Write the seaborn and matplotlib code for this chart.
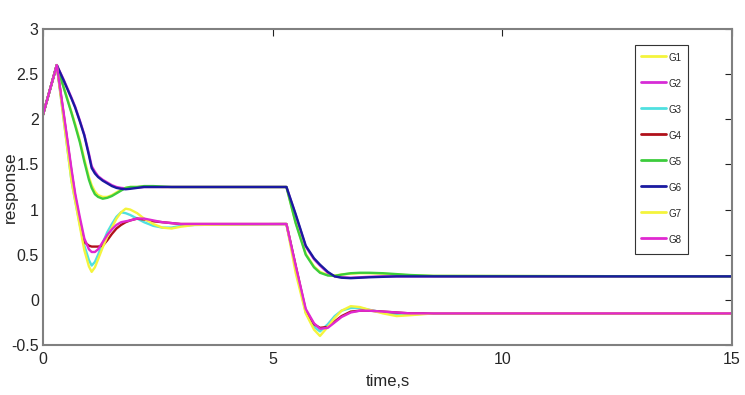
import matplotlib
matplotlib.use('Agg')
import matplotlib.pyplot as plt
import seaborn as sns
import pandas as pd

# time grid (s)
time = [0, 0.3, 0.45, 0.62, 0.7, 0.8, 0.9, 1.0, 1.06, 1.13, 1.2, 1.3, 1.4, 1.5, 1.6, 1.7,
        1.8, 1.9, 2.05, 2.2, 2.4, 2.6, 2.8, 3.0, 3.3, 5.3,
        5.5, 5.72, 5.9, 6.03, 6.2, 6.35, 6.5, 6.7, 6.9, 7.1, 7.4, 7.7, 8.0, 8.5, 15]

g1 = [2.05, 2.6, 2.36, 2.08, 1.95, 1.77, 1.56, 1.36, 1.27, 1.2, 1.16, 1.14, 1.14, 1.16, 1.19, 1.22,
      1.24, 1.25, 1.25, 1.255, 1.255, 1.25, 1.25, 1.25, 1.25, 1.25,
      0.86, 0.51, 0.37, 0.31, 0.275, 0.27, 0.28, 0.29, 0.295, 0.295, 0.29, 0.28, 0.27, 0.265, 0.26]
g2 = [2.05, 2.6, 2.44, 2.24, 2.14, 1.99, 1.83, 1.62, 1.48, 1.42, 1.37, 1.33, 1.3, 1.27, 1.25, 1.24,
      1.235, 1.24, 1.245, 1.25, 1.25, 1.25, 1.25, 1.25, 1.25, 1.25,
      0.94, 0.59, 0.45, 0.38, 0.3, 0.26, 0.25, 0.245, 0.25, 0.255, 0.26, 0.26, 0.26, 0.26, 0.26]
g3 = [2.05, 2.6, 2.0, 1.32, 1.1, 0.84, 0.6, 0.44, 0.38, 0.42, 0.5, 0.63, 0.75, 0.84, 0.92, 0.97,
      0.96, 0.94, 0.9, 0.86, 0.82, 0.8, 0.8, 0.82, 0.83, 0.84,
      0.36, -0.14, -0.3, -0.35, -0.27, -0.18, -0.12, -0.09, -0.09, -0.11, -0.14, -0.16, -0.16, -0.15, -0.15]
g4 = [2.05, 2.6, 2.05, 1.42, 1.15, 0.88, 0.64, 0.6, 0.59, 0.59, 0.59, 0.6, 0.66, 0.73, 0.79, 0.83,
      0.86, 0.88, 0.9, 0.89, 0.87, 0.86, 0.85, 0.84, 0.84, 0.84,
      0.38, -0.12, -0.27, -0.31, -0.3, -0.24, -0.18, -0.13, -0.12, -0.12, -0.13, -0.14, -0.15, -0.15, -0.15]
g5 = [2.05, 2.6, 2.35, 2.07, 1.93, 1.75, 1.53, 1.33, 1.24, 1.17, 1.14, 1.12, 1.13, 1.15, 1.18, 1.21,
      1.24, 1.25, 1.25, 1.26, 1.26, 1.255, 1.25, 1.25, 1.25, 1.25,
      0.85, 0.5, 0.36, 0.3, 0.27, 0.265, 0.28, 0.295, 0.3, 0.3, 0.295, 0.285, 0.275, 0.265, 0.26]
g6 = [2.05, 2.6, 2.43, 2.23, 2.13, 1.98, 1.82, 1.6, 1.46, 1.4, 1.36, 1.32, 1.29, 1.26, 1.24, 1.23,
      1.225, 1.23, 1.24, 1.25, 1.25, 1.25, 1.25, 1.25, 1.25, 1.25,
      0.95, 0.6, 0.46, 0.39, 0.31, 0.26, 0.245, 0.24, 0.245, 0.25, 0.255, 0.26, 0.26, 0.26, 0.26]
g7 = [2.05, 2.6, 2.0, 1.32, 1.1, 0.82, 0.55, 0.37, 0.31, 0.36, 0.45, 0.58, 0.7, 0.8, 0.9, 0.97,
      1.01, 1.0, 0.96, 0.9, 0.84, 0.8, 0.79, 0.81, 0.83, 0.84,
      0.3, -0.15, -0.33, -0.4, -0.3, -0.2, -0.12, -0.07, -0.08, -0.11, -0.15, -0.18, -0.17, -0.15, -0.15]
g8 = [2.05, 2.6, 2.07, 1.45, 1.18, 0.92, 0.68, 0.56, 0.53, 0.53, 0.56, 0.64, 0.72, 0.78, 0.83, 0.86,
      0.87, 0.88, 0.9, 0.9, 0.88, 0.86, 0.85, 0.84, 0.84, 0.84,
      0.38, -0.1, -0.26, -0.32, -0.31, -0.25, -0.19, -0.14, -0.12, -0.12, -0.13, -0.14, -0.15, -0.15, -0.15]

names = ['G1', 'G2', 'G3', 'G4', 'G5', 'G6', 'G7', 'G8']
colors = ['#f4f43c', '#d62cd6', '#4fe0e0', '#b0101a', '#3ccc3c', '#1a1aa0', '#f4f43c', '#e028d0']

series = [g1, g2, g3, g4, g5, g6, g7, g8]
df = pd.concat([pd.DataFrame({'time': time, 'response': s, 'group': n})
                for n, s in zip(names, series)], ignore_index=True)

sns.set_style('white')
plt.rcParams['font.family'] = ['Liberation Sans Narrow', 'Liberation Sans', 'DejaVu Sans']

fig = plt.figure(figsize=(7.45, 3.95), dpi=100)
ax = fig.add_axes([0.0577, 0.1266, 0.9249, 0.80])

sns.lineplot(data=df, x='time', y='response', hue='group', hue_order=names,
             palette=dict(zip(names, colors)), linewidth=1.7, ax=ax, sort=False)

ax.set_xlim(0, 15)
ax.set_ylim(-0.5, 3)
ax.set_xticks([0, 5, 10, 15])
ax.set_yticks([-0.5, 0, 0.5, 1, 1.5, 2, 2.5, 3])
ax.set_yticklabels(['-0.5', '0', '0.5', '1', '1.5', '2', '2.5', '3'])
ax.tick_params(direction='in', length=5, width=0.8, color='#222222',
               labelsize=11.5, top=True, right=True, pad=3)
ax.tick_params(axis='x', pad=5)
for sp in ax.spines.values():
    sp.set_color('#808080')
    sp.set_linewidth(1.5)

ax.set_xlabel('time,s', fontsize=12, labelpad=5)
ax.set_ylabel('response', fontsize=12.5)
ax.yaxis.set_label_coords(-0.036, 0.5)

leg = ax.legend(loc='upper right', bbox_to_anchor=(0.936, 0.95), fontsize=7,
                frameon=True, fancybox=False, handlelength=2.6, handleheight=2.0,
                labelspacing=1.13, borderpad=0.6, handletextpad=0.3, borderaxespad=0)
leg.get_frame().set_edgecolor('#333333')
leg.get_frame().set_linewidth(0.8)
leg.get_frame().set_alpha(1)
for line in leg.get_lines():
    line.set_linewidth(2)

fig.savefig('out.png', dpi=100)
